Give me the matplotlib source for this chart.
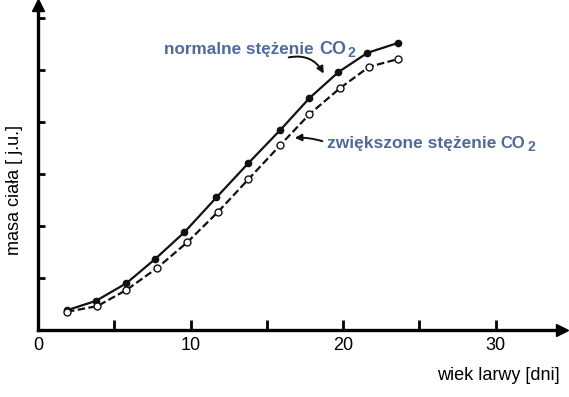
import matplotlib
matplotlib.use("Agg")
import matplotlib.pyplot as plt

W, H = 569, 397
LABEL_BLUE = "#4f6a9b"

# larval age [days] and body mass [a.u.]
days_normal = [1.9, 3.8, 5.8, 7.7, 9.6, 11.7, 13.8, 15.9, 17.8, 19.7, 21.6, 23.6]
mass_normal = [0.38, 0.56, 0.90, 1.37, 1.88, 2.55, 3.21, 3.85, 4.46, 4.96, 5.33, 5.52]

days_high = [1.9, 3.9, 5.8, 7.8, 9.8, 11.8, 13.8, 15.9, 17.8, 19.8, 21.7, 23.6]
mass_high = [0.35, 0.46, 0.77, 1.19, 1.69, 2.27, 2.90, 3.56, 4.15, 4.65, 5.06, 5.21]

x_major = [0, 10, 20, 30]
x_minor = [5, 15, 25]
y_ticks = [1, 2, 3, 4, 5, 6]

plt.rcParams["font.family"] = ["Liberation Sans", "DejaVu Sans"]


def px(x, y):
    # pixel position -> figure fraction
    return x / W, 1 - y / H


fig = plt.figure(figsize=(W / 100, H / 100), dpi=100)
ax = fig.add_axes([38 / W, 67 / H, (562 - 38) / W, (330 - 5) / H])
ax.set_xlim(0, 34.36)
ax.set_ylim(0, 6.25)

for side in ("top", "right"):
    ax.spines[side].set_visible(False)
for side in ("left", "bottom"):
    ax.spines[side].set_linewidth(2.4)
    ax.spines[side].set_capstyle("projecting")

ax.xaxis.set_major_locator(plt.FixedLocator(x_major))
ax.xaxis.set_minor_locator(plt.FixedLocator(x_minor))
ax.set_xticklabels([str(v) for v in x_major])
ax.set_yticks(y_ticks)
ax.set_yticklabels([])
ax.tick_params(axis="x", which="both", direction="in", length=7, width=2,
               labelsize=13, pad=5)
ax.tick_params(axis="y", direction="in", length=5, width=2)

# arrow heads on the axes
ax.plot(1, 0, marker=">", color="black", markersize=9,
        transform=ax.transAxes, clip_on=False)
ax.plot(0, 1, marker="^", color="black", markersize=9,
        transform=ax.transAxes, clip_on=False)

ax.plot(days_normal, mass_normal, color="#111111", lw=1.6,
        marker="o", markersize=4.5, markerfacecolor="#111111", zorder=3)
ax.plot(days_high, mass_high, color="#111111", lw=1.6,
        linestyle=(0, (3.4, 1.5)), marker="o", markersize=5,
        markerfacecolor="white", markeredgewidth=1.0, zorder=3)

# axis labels
fig.text(*px(498, 375), "wiek larwy [dni]", ha="center", va="center", fontsize=13)
fig.text(*px(15, 190), "masa ciała [ j.u.]", ha="center", va="center",
         fontsize=13, rotation=90)

# series labels
fig.text(*px(164, 54), "normalne stężenie", fontsize=12.3, fontweight="bold",
         color=LABEL_BLUE, ha="left", va="baseline")
fig.text(*px(319, 54), "CO", fontsize=13, fontweight="bold",
         color=LABEL_BLUE, ha="left", va="baseline")
fig.text(*px(347, 57), "2", fontsize=10, fontweight="bold",
         color=LABEL_BLUE, ha="left", va="baseline")

fig.text(*px(327, 148), "zwiększone stężenie", fontsize=12.5, fontweight="bold",
         color=LABEL_BLUE, ha="left", va="baseline")
fig.text(*px(500, 148), "CO", fontsize=12, fontweight="bold",
         color=LABEL_BLUE, ha="left", va="baseline")
fig.text(*px(527, 151), "2", fontsize=10, fontweight="bold",
         color=LABEL_BLUE, ha="left", va="baseline")

# pointer arrows
ax.annotate("", xy=px(325, 76), xycoords="figure fraction",
            xytext=px(286, 58), textcoords="figure fraction",
            arrowprops=dict(arrowstyle="-|>", color="#111111", lw=1.4,
                            mutation_scale=10,
                            connectionstyle="arc3,rad=-0.4"))
ax.annotate("", xy=px(292, 138), xycoords="figure fraction",
            xytext=px(325, 142), textcoords="figure fraction",
            arrowprops=dict(arrowstyle="-|>", color="#111111", lw=1.4,
                            mutation_scale=10,
                            connectionstyle="arc3,rad=0.1"))

fig.savefig("out.png", dpi=100, facecolor="white")
